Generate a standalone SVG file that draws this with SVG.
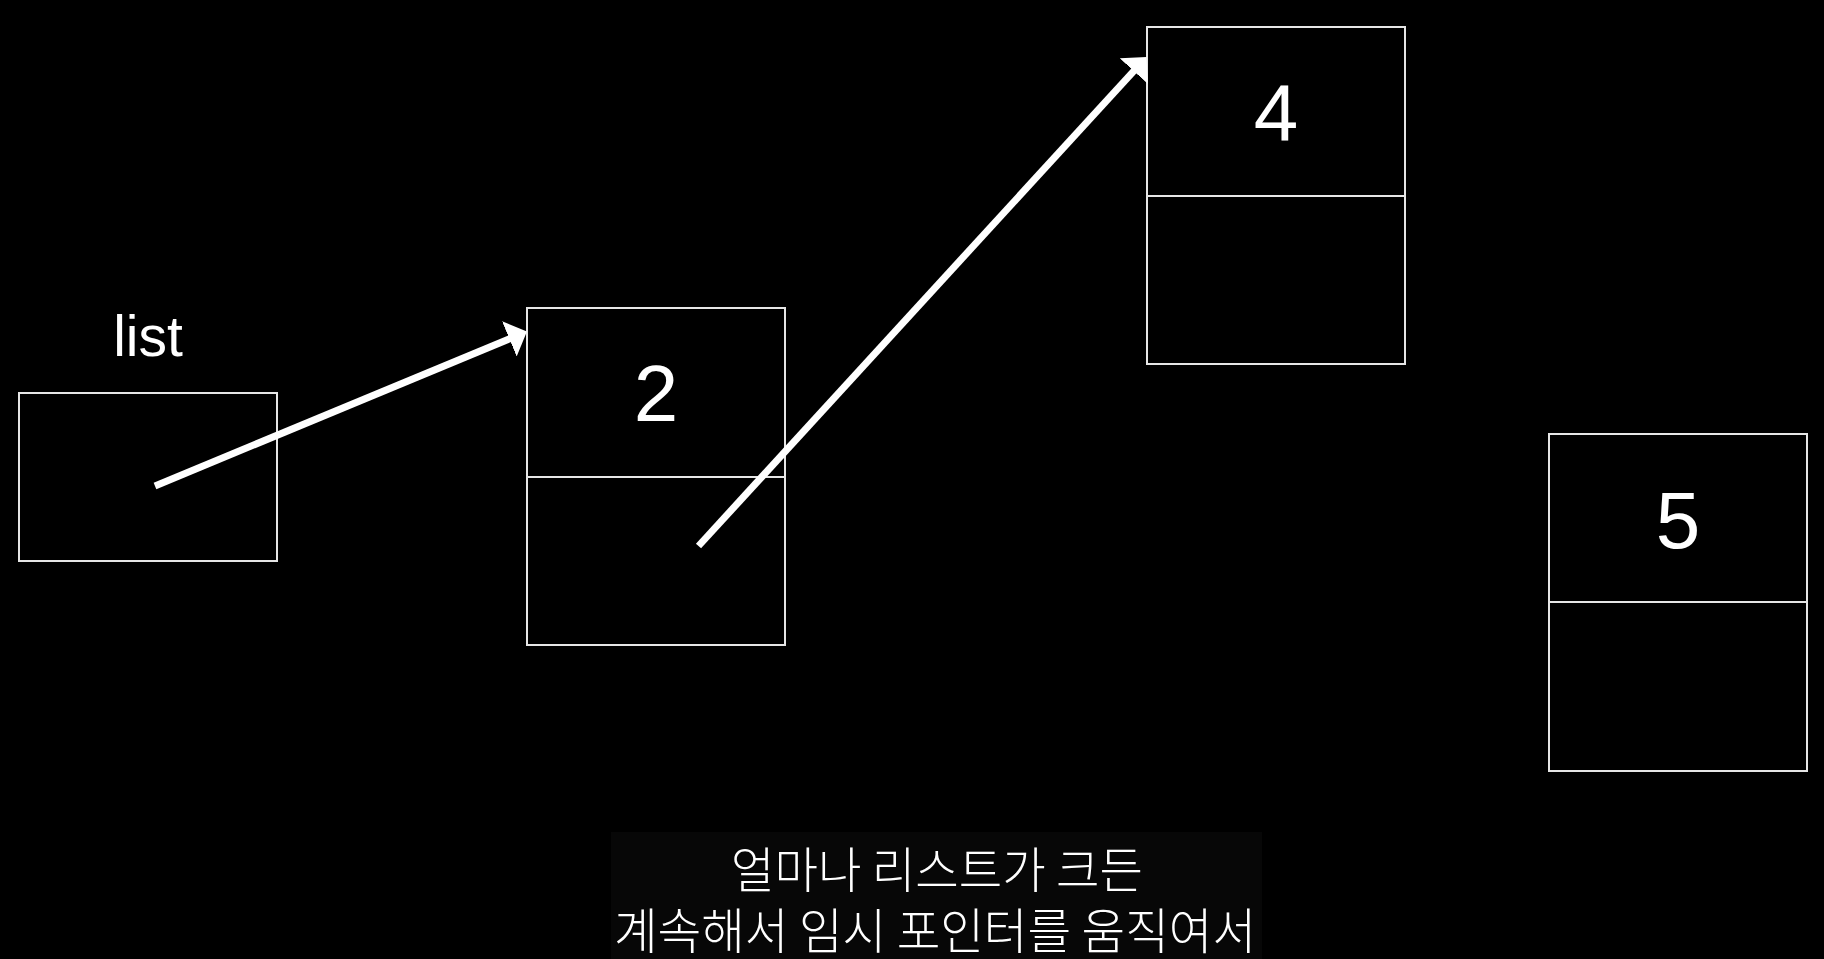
<svg xmlns="http://www.w3.org/2000/svg" width="1824" height="959" viewBox="0 0 1824 959">
<style>
.box{fill:#000;stroke:#e6e6e6;stroke-width:2}
.div{stroke:#e6e6e6;stroke-width:2}
.num{font-family:"Liberation Sans",Arial,sans-serif;font-size:80px;fill:#fff;text-anchor:middle}
.lbl{font-family:"Liberation Sans",Arial,sans-serif;font-size:57px;fill:#fff;text-anchor:middle}
.conn{stroke:#fff;stroke-width:7;fill:none}
.sub{font-family:"Noto Sans CJK KR","Noto Sans",sans-serif;font-size:49px;fill:#fff;font-weight:300}
</style>
<defs>
<marker id="ah" markerUnits="userSpaceOnUse" markerWidth="22" markerHeight="40" refX="1" refY="19" orient="auto" viewBox="0 0 22 40">
<path d="M0,0 L19,19 L0,38 z" fill="#fff"/>
</marker>
</defs>
<rect x="0" y="0" width="1824" height="959" fill="#000"/>
<rect x="611" y="832" width="651" height="127" fill="#070707"/>
<g id="node-list">
<text class="lbl" x="148" y="356">list</text>
<rect class="box" x="19" y="393" width="258" height="168"/>
</g>
<g id="node-2">
<rect class="box" x="527" y="308" width="258" height="337"/>
<line class="div" x1="527" y1="477" x2="785" y2="477"/>
<text class="num" x="656" y="421">2</text>
</g>
<g id="node-4">
<rect class="box" x="1147" y="27" width="258" height="337"/>
<line class="div" x1="1147" y1="196" x2="1405" y2="196"/>
<text class="num" x="1276" y="140">4</text>
</g>
<g id="node-5">
<rect class="box" x="1549" y="434" width="258" height="337"/>
<line class="div" x1="1549" y1="602" x2="1807" y2="602"/>
<text class="num" x="1678" y="548">5</text>
</g>
<g id="connectors">
<line class="conn" x1="155" y1="486" x2="510.3" y2="338.5" marker-end="url(#ah)"/>
<line class="conn" x1="698.5" y1="546" x2="1134.4" y2="70.3" marker-end="url(#ah)"/>
</g>
<g id="subtitle">
<text class="sub" x="731" y="888" textLength="412" lengthAdjust="spacingAndGlyphs">얼마나 리스트가 크든</text>
<text class="sub" x="614" y="949" textLength="642" lengthAdjust="spacingAndGlyphs">계속해서 임시 포인터를 움직여서</text>
</g>
</svg>
